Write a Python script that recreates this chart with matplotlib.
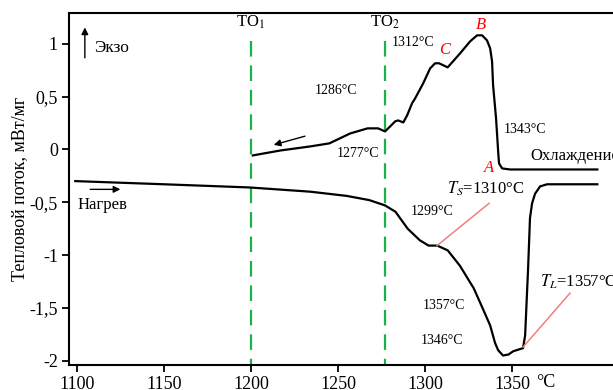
import numpy as np
import matplotlib.pyplot as plt

plt.rcParams['font.family'] = ['Liberation Serif', 'DejaVu Serif']
plt.rcParams['mathtext.fontset'] = 'stix'

# ДАННЫЕ
# нагрев
t_nagrev = [1099, 1150, 1199, 1234, 1255, 1268, 1277, 1283, 1290, 1297, 1302, 1307,
            1313, 1320, 1328, 1333, 1337.4, 1340.2, 1342, 1344.8, 1348, 1350.6, 1356.3,
            1357.5, 1359.2, 1360.3, 1361.5, 1363.2, 1366.1, 1370.1, 1399]
q_nagrev = [-0.30, -0.33, -0.36, -0.40, -0.44, -0.48, -0.53, -0.59, -0.75, -0.86, -0.91, -0.91,
            -0.955, -1.10, -1.315, -1.50, -1.665, -1.83, -1.90, -1.95, -1.94, -1.91, -1.88,
            -1.76, -1.13, -0.65, -0.51, -0.42, -0.35, -0.33, -0.33]
# охлаждение
t_ohl = [1201, 1217, 1234, 1245, 1257, 1267, 1273, 1277, 1280, 1282.8, 1284.5, 1287.5,
         1289.7, 1292.5, 1294.3, 1298.9, 1302.9, 1305.7, 1308, 1313, 1320.1, 1325.9,
         1329.9, 1332.8, 1335.6, 1337.4, 1338.5, 1339.1, 1340.8, 1342, 1342.5, 1344.3,
         1348.9, 1399]
q_ohl = [-0.057, -0.01, 0.028, 0.057, 0.151, 0.199, 0.199, 0.17, 0.218, 0.265, 0.274, 0.255,
         0.322, 0.435, 0.483, 0.624, 0.766, 0.814, 0.815, 0.776, 0.908, 1.022,
         1.079, 1.079, 1.031, 0.956, 0.833, 0.605, 0.293, -0.019, -0.132, -0.18,
         -0.19, -0.19]

TO = [1200, 1277]
TO_labels = [r'TO$_1$', r'TO$_2$']

# подписи температур: (текст, x, y)
podpisi = [('1286°C', 1249, 0.56), ('1277°C', 1261.5, -0.04), ('1312°C', 1293, 1.01),
           ('1343°C', 1357.5, 0.19), ('1299°C', 1304, -0.59), ('1357°C', 1311, -1.48),
           ('1346°C', 1310, -1.81)]
tochki = [('C', 1311.5, 0.94), ('B', 1332.2, 1.18), ('A', 1336.8, -0.18)]

xticks = [1100, 1150, 1200, 1250, 1300, 1350]
yticks = [1, 0.5, 0, -0.5, -1, -1.5, -2]
ytick_labels = ['1', '0,5', '0', '-0,5', '-1', '-1,5', '-2']

# ГРАФИК
fig = plt.figure(figsize=(6.13, 3.9), dpi=100)
ax = fig.add_axes([0.1126, 0.064, 0.8874, 0.9026])

for x in TO:
    ax.plot([x, x], [1.03, -2.1], color='#19b14a', lw=1.6, dashes=(7, 4), clip_on=True)
for x, s in zip(TO, TO_labels):
    ax.text(x, 1.2, s, ha='center', va='center', fontsize=12)

ax.plot(t_nagrev, q_nagrev, color='black', lw=1.6, solid_joinstyle='round')
ax.plot(t_ohl, q_ohl, color='black', lw=1.6, solid_joinstyle='round')

# выноски Ts и TL
ax.plot([1306.9, 1336.8], [-0.91, -0.51], color='#f08080', lw=1.1)
ax.plot([1356.3, 1383.3], [-1.87, -1.36], color='#f08080', lw=1.1)

for s, x, y in podpisi:
    ax.text(x, y, s, ha='center', va='center', fontsize=10)
for s, x, y in tochki:
    ax.text(x, y, s, ha='center', va='center', fontsize=12, color='red', style='italic')

ax.text(1312.6, -0.37, r'$T_S$=1310°C', ha='left', va='center', fontsize=12)
ax.text(1366.1, -1.25, r'$T_L$=1357°C', ha='left', va='center', fontsize=12)
ax.text(1360.3, -0.066, 'Охлаждение', ha='left', va='center', fontsize=12)
ax.text(1110, 0.955, 'Экзо', ha='left', va='center', fontsize=12.5)
ax.text(1100.5, -0.53, 'Нагрев', ha='left', va='center', fontsize=12)

arr = dict(arrowstyle='-|>', color='black', lw=1.0, mutation_scale=10)
ax.annotate('', xy=(1104.5, 1.18), xytext=(1104.5, 0.84), arrowprops=arr)
ax.annotate('', xy=(1126.5, -0.378), xytext=(1106, -0.378), arrowprops=arr)
ax.annotate('', xy=(1211.5, 0.036), xytext=(1232.5, 0.132), arrowprops=arr)

ax.set_xlim(1095.4, 1408)
ax.set_ylim(-2.04, 1.29)
ax.set_xticks(xticks)
ax.set_yticks(yticks)
ax.set_yticklabels(ytick_labels)
ax.tick_params(direction='out', length=5, width=1.3, labelsize=13, pad=3)
ax.text(1364, -0.025, '°C', transform=ax.get_xaxis_transform(), ha='left', va='top', fontsize=13)
ax.set_ylabel('Тепловой поток, мВт/мг', fontsize=13, labelpad=1)
for sp in ['left', 'bottom', 'top']:
    ax.spines[sp].set_linewidth(1.5)
ax.spines['right'].set_visible(False)

fig.savefig('out.png', dpi=100)
